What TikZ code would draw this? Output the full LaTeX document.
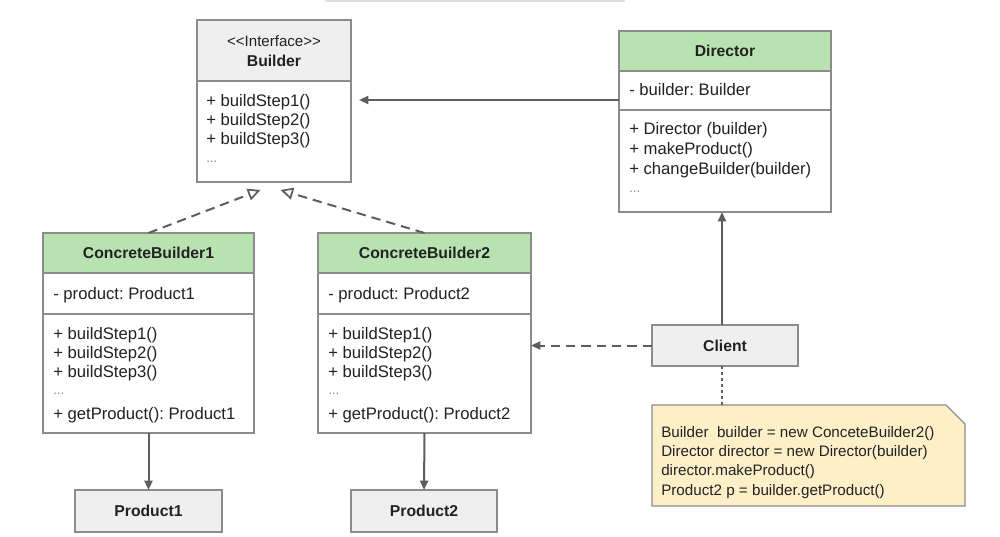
\documentclass[tikz,border=0pt]{standalone}
\usepackage{fontspec}
\setmainfont{Liberation Sans}
\usetikzlibrary{arrows.meta,fit,calc}
\definecolor{bordc}{HTML}{8C8C8C}
\definecolor{linec}{HTML}{5E5E5E}
\definecolor{txtc}{HTML}{222222}
\definecolor{grayh}{HTML}{EFEFEF}
\definecolor{greenh}{HTML}{B8E3B1}
\definecolor{notef}{HTML}{FDF0C9}
\definecolor{dotc}{HTML}{8A8A8A}
\frenchspacing
\begin{document}
\begin{tikzpicture}[x=0.75pt,y=-0.75pt,
  comp/.style={draw=bordc, line width=1pt, inner sep=0pt, outer sep=0pt, fill=white},
  grayhdr/.style={comp, fill=grayh},
  greenhdr/.style={comp, fill=greenh},
  hull/.style={inner sep=0pt, outer sep=0pt},
  lbl/.style={anchor=west, inner sep=0pt, text=txtc, font=\fontsize{12.5}{15}\selectfont, text height=9pt, text depth=2.5pt},
  dots/.style={anchor=west, inner sep=0pt, text=dotc, font=\fontsize{10}{12}\selectfont},
  title/.style={inner sep=0pt, text=txtc, font=\fontsize{11.8}{14}\selectfont\bfseries},
  stereo/.style={inner sep=0pt, text=txtc, font=\fontsize{11.3}{13}\selectfont},
  notetxt/.style={anchor=west, inner sep=0pt, text=txtc, font=\fontsize{11.4}{14}\selectfont, text height=8.5pt, text depth=2.5pt},
  solidarr/.style={draw=linec, line width=1.5pt, -{Triangle[length=7pt,width=6pt]}},
  dasharr/.style={draw=linec, line width=1.5pt, dash pattern=on 7pt off 4.5pt, -{Triangle[length=7pt,width=6pt]}},
  realarr/.style={draw=linec, line width=1.5pt, dash pattern=on 7pt off 4.5pt, -{Triangle[open,length=9.5pt,width=9pt,line width=1.3pt,fill=white]}},
  noteline/.style={draw=linec, line width=0.8pt, dash pattern=on 2.5pt off 2pt}
]
\useasboundingbox (0,0) rectangle (1000,536);
\fill[white] (0,0) rectangle (1000,536);
\draw[gray!25, line width=1.2pt] (325,0.8) -- (625,0.8);

% ---------- Builder ----------
\node[grayhdr, fit={(197,20)(351,81)}] (bldH) {};
\node[comp, fit={(197,81)(351,182)}] (bldM) {};
\node[hull, fit=(bldH)(bldM)] (bld) {};
\node[stereo] (bldS) at (274,41) {<{}<Interface>{}>};
\node[title] (bldT) at (274,61) {Builder};
\node[lbl] (bld1) at (206,102) {+ buildStep1()};
\node[lbl] (bld2) at (206,121) {+ buildStep2()};
\node[lbl] (bld3) at (206,140) {+ buildStep3()};
\node[dots] (bld4) at (206,162) {...};

% ---------- Director ----------
\node[greenhdr, fit={(619,31)(831,71)}] (dirH) {};
\node[comp, fit={(619,71)(831,110)}] (dirA) {};
\node[comp, fit={(619,110)(831,212)}] (dirM) {};
\node[hull, fit=(dirH)(dirM)] (dir) {};
\node[title] (dirT) at (725,51) {Director};
\node[lbl] (dirA1) at (629,91) {- builder: Builder};
\node[lbl] (dir1) at (629,130) {+ Director (builder)};
\node[lbl] (dir2) at (629,150) {+ makeProduct()};
\node[lbl] (dir3) at (629,170) {+ changeBuilder(builder)};
\node[dots] (dir4) at (629,192) {...};

% ---------- ConcreteBuilder1 ----------
\node[greenhdr, fit={(43,233)(254,273)}] (cb1H) {};
\node[comp, fit={(43,273)(254,314)}] (cb1A) {};
\node[comp, fit={(43,314)(254,433)}] (cb1M) {};
\node[hull, fit=(cb1H)(cb1M)] (cb1) {};
\node[title] (cb1T) at (148.5,253) {ConcreteBuilder1};
\node[lbl] (cb1A1) at (53,295) {- product: Product1};
\node[lbl] (cb11) at (53,335) {+ buildStep1()};
\node[lbl] (cb12) at (53,354) {+ buildStep2()};
\node[lbl] (cb13) at (53,373) {+ buildStep3()};
\node[dots] (cb14) at (53,394) {...};
\node[lbl] (cb15) at (53,415) {+ getProduct(): Product1};

% ---------- ConcreteBuilder2 ----------
\node[greenhdr, fit={(318,233)(531,273)}] (cb2H) {};
\node[comp, fit={(318,273)(531,314)}] (cb2A) {};
\node[comp, fit={(318,314)(531,433)}] (cb2M) {};
\node[hull, fit=(cb2H)(cb2M)] (cb2) {};
\node[title] (cb2T) at (424.5,253) {ConcreteBuilder2};
\node[lbl] (cb2A1) at (328,295) {- product: Product2};
\node[lbl] (cb21) at (328,335) {+ buildStep1()};
\node[lbl] (cb22) at (328,354) {+ buildStep2()};
\node[lbl] (cb23) at (328,373) {+ buildStep3()};
\node[dots] (cb24) at (328,394) {...};
\node[lbl] (cb25) at (328,415) {+ getProduct(): Product2};

% ---------- Products ----------
\node[grayhdr, fit={(75,490)(222,532)}] (p1) {};
\node[title] (p1T) at (148.5,511) {Product1};
\node[grayhdr, fit={(351,490)(497,532)}] (p2) {};
\node[title] (p2T) at (424,511) {Product2};

% ---------- Client ----------
\node[grayhdr, fit={(652,325)(798,366)}] (cl) {};
\node[title] (clT) at (725,345.5) {Client};

% ---------- Note ----------
\node[hull, fit={(652,405)(965,506)}] (note) {};
\draw[draw=bordc, line width=1pt, fill=notef]
  (note.north west) -- ($(note.north east)+(-19,0)$) -- ($(note.north east)+(0,19)$)
  -- (note.south east) -- (note.south west) -- cycle;
\node[notetxt] (n1) at (661,433) {Builder\ \ builder = new ConceteBuilder2()};
\node[notetxt] (n2) at (661,452) {Director director = new Director(builder)};
\node[notetxt] (n3) at (661,471) {director.makeProduct()};
\node[notetxt] (n4) at (661,491) {Product2 p = builder.getProduct()};

% ---------- Connectors ----------
\draw[solidarr] (dir.west |- 0,100) -- ($(bld.east |- 0,100)+(8,0)$);
\draw[solidarr] ($(cl.north)+(-3,0)$) -- ($(cl.north |- dir.south)+(-3,0)$);
\draw[dasharr] (cl.west) -- (cl.west -| cb2.east);
\draw[noteline] ($(cl.south)+(-3,0)$) -- ($(cl.south |- note.north)+(-3,0)$);
\draw[realarr] (cb1.north) -- ($(bld.south)+(-13.5,8)$);
\draw[realarr] (cb2.north) -- ($(bld.south)+(6.5,8)$);
\draw[solidarr] (cb1.south) -- (p1.north);
\draw[solidarr] (cb2.south) -- (p2.north);
\end{tikzpicture}
\end{document}
